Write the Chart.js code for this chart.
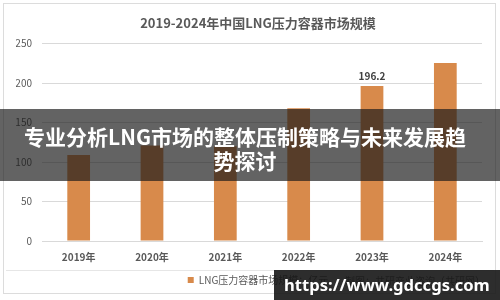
<!DOCTYPE html>
<html>
<head>
<meta charset="utf-8">
<script src="https://cdn.jsdelivr.net/npm/chart.js@4/dist/chart.umd.min.js"></script>
<style>
  html, body { margin: 0; padding: 0; background: #fff; }
  #wrap { width: 500px; height: 300px; }
</style>
</head>
<body>
<div id="wrap"><canvas id="marketChart" width="500" height="300"></canvas></div>
<script>
const years = ["2019年", "2020年", "2021年", "2022年", "2023年", "2024年"];
const marketSize = [109, 121, 120, 168, 196.2, 225.5];
const labeledYears = ["2023年"];
const yTicks = [0, 50, 100, 150, 200, 250];

const chartTitle = "2019-2024年中国LNG压力容器市场规模";
const seriesName = "LNG压力容器市场规模：亿元";
const sourceNote = "制图：共研产业咨询（共研网）";
const bannerLines = ["专业分析LNG市场的整体压制策略与未来发展趋", "势探讨"];
const siteUrl = "https://www.gdccgs.com";

const CJK = '"Noto Sans CJK SC", "Noto Sans", sans-serif';
Chart.defaults.font.family = CJK;
Chart.defaults.color = "#595959";

// frame, value label, banner and url box on top of the chart
const decorPlugin = {
    id: "decor",
    beforeDraw(chart) {
        const ctx = chart.ctx;
        ctx.save();
        ctx.fillStyle = "#fff";
        ctx.fillRect(0, 0, chart.width, chart.height);
        ctx.strokeStyle = "#dcdcdc";
        ctx.lineWidth = 1;
        ctx.strokeRect(3.5, 3.5, 492, 290);
        ctx.strokeStyle = "#e6e6e6";
        ctx.beginPath();
        ctx.moveTo(6, 270.5);
        ctx.lineTo(494, 270.5);
        ctx.stroke();
        ctx.restore();
    },
    afterDatasetsDraw(chart) {
        const ctx = chart.ctx;
        const meta = chart.getDatasetMeta(0);
        ctx.save();
        ctx.font = "bold 10px " + CJK;
        ctx.fillStyle = "#404040";
        ctx.textAlign = "center";
        ctx.textBaseline = "bottom";
        meta.data.forEach((bar, i) => {
            if (!labeledYears.includes(years[i])) return;
            ctx.fillText(String(marketSize[i]), bar.x, bar.y - 5);
        });
        ctx.restore();
    },
    afterDraw(chart) {
        const ctx = chart.ctx;
        ctx.save();

        // source note next to legend
        ctx.font = "10px " + CJK;
        ctx.fillStyle = "#595959";
        ctx.textAlign = "left";
        ctx.textBaseline = "middle";
        ctx.fillText(sourceNote, 345, 281);

        // dark banner across the middle
        ctx.fillStyle = "rgba(25, 25, 25, 0.68)";
        ctx.fillRect(0, 109, chart.width, 72);
        ctx.fillStyle = "#fff";
        ctx.font = "bold 21px " + CJK;
        ctx.textAlign = "center";
        ctx.fillText(bannerLines[0], 245, 137);
        ctx.fillText(bannerLines[1], 245, 161);

        // url box bottom right, text fitted to the box
        ctx.fillStyle = "rgba(22, 22, 22, 0.9)";
        ctx.fillRect(274, 270, 226, 30);
        ctx.fillStyle = "#fff";
        ctx.font = 'bold 20px "Noto Sans", sans-serif';
        let size = 20 * 206 / ctx.measureText(siteUrl).width;
        ctx.font = "bold " + size.toFixed(1) + 'px "Noto Sans", sans-serif';
        ctx.textAlign = "left";
        ctx.fillText(siteUrl, 284, 286);

        ctx.restore();
    }
};

const ctx = document.getElementById("marketChart").getContext("2d");
new Chart(ctx, {
    type: "bar",
    data: {
        labels: years,
        datasets: [{
            label: seriesName,
            data: marketSize,
            backgroundColor: "#d88a4b",
            borderWidth: 0,
            categoryPercentage: 0.31,
            barPercentage: 1
        }]
    },
    options: {
        responsive: false,
        animation: false,
        layout: { padding: { left: 16, right: 0, top: 0, bottom: 5 } },
        plugins: {
            title: {
                display: true,
                text: chartTitle,
                color: "#595959",
                font: { size: 13, weight: "bold" },
                padding: { top: 15, bottom: 13 }
            },
            legend: {
                position: "bottom",
                labels: {
                    boxWidth: 6,
                    boxHeight: 6,
                    padding: 6,
                    color: "#595959",
                    font: { size: 10 }
                }
            },
            tooltip: { enabled: false }
        },
        scales: {
            x: {
                grid: { display: false, drawTicks: false },
                border: { color: "#d9d9d9" },
                ticks: { padding: 10, font: { size: 10, weight: "bold" }, color: "#595959" },
                afterFit(scale) { scale.height = 28; }
            },
            y: {
                min: 0,
                max: 250,
                afterBuildTicks(scale) { scale.ticks = yTicks.map(v => ({ value: v })); },
                grid: { color: "#d9d9d9", drawTicks: false },
                border: { display: false },
                ticks: { padding: 10, font: { size: 10 }, color: "#595959" },
                afterFit(scale) { scale.width = 26; }
            },
            // empty right axis, only keeps the right margin
            yRight: {
                position: "right",
                grid: { display: false, drawTicks: false },
                border: { display: false },
                ticks: { display: false },
                afterFit(scale) { scale.width = 18; }
            }
        }
    },
    plugins: [decorPlugin]
});
</script>
</body>
</html>
